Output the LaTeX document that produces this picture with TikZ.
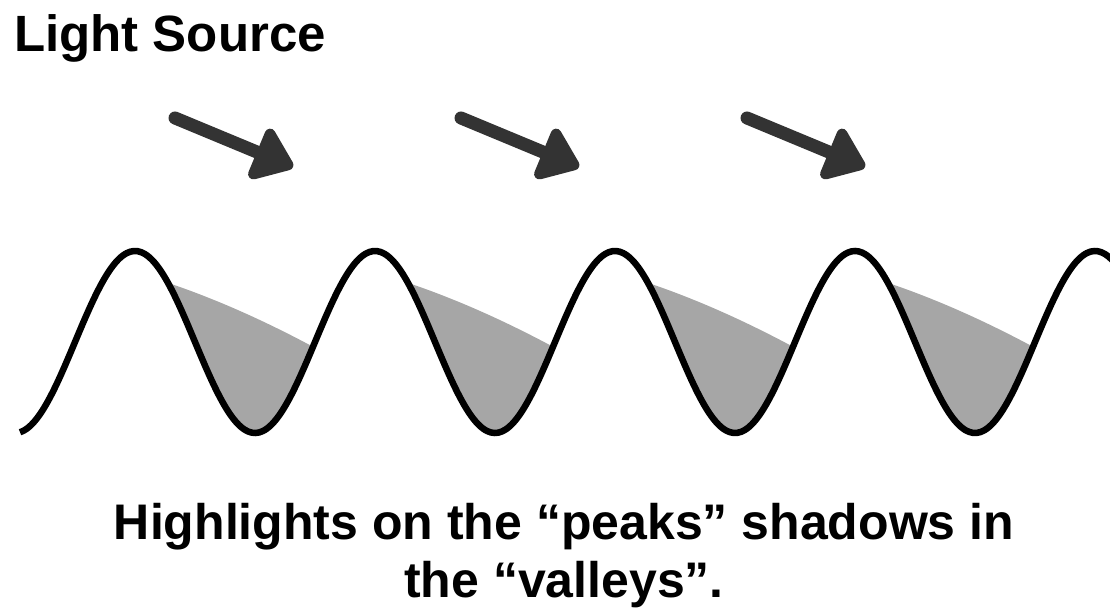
\documentclass[tikz,border=0pt]{standalone}
\usepackage{fontspec}
\setmainfont{Liberation Sans}
\usetikzlibrary{arrows.meta}
\definecolor{shadowgray}{HTML}{A6A6A6}
\definecolor{arrowgray}{HTML}{333333}
\begin{document}
\begin{tikzpicture}[x=1pt,y=1pt,
  declare function={wy(\t)=267+91*cos(1.5*(\t-135));},
  wave/.style={line width=6.5pt,black},
  shadowfill/.style={fill=shadowgray},
  lightarrow/.style={line width=13pt, arrowgray, line cap=round,
    -{Triangle[length=43pt,width=62pt,round]}},
  titlelabel/.style={font=\fontsize{51}{58}\bfseries\selectfont, inner sep=0pt},
  textlabel/.style={font=\fontsize{50}{58}\bfseries\selectfont, inner sep=0pt}]
\useasboundingbox (0,0) rectangle (1110,609);
\clip (0,0) rectangle (1110,609);
% shadows in the valleys
\foreach \k in {0,1,2,3}{
  \pgfmathsetmacro\a{168+240*\k}
  \pgfmathsetmacro\b{313+240*\k}
  \fill[shadowfill] plot[domain=\a:\b, samples=60, smooth] (\x,{wy(\x)})
    .. controls ({\a+97},288) and ({\a+48},310) .. (\a,{wy(\a)}) -- cycle;
}
% wave
\draw[wave] plot[domain=20:1120, samples=300, smooth] (\x,{wy(\x)});
% light arrows
\foreach \k/\n in {0/a,1/b,2/c}{
  \coordinate (tail\n) at ({175+286*\k},491);
  \coordinate (tip\n) at ({293+286*\k},442);
  \draw[lightarrow] (tail\n) -- (tip\n);
}
% labels
\node[titlelabel, anchor=base west] (title) at (14,557) {Light Source};
\node[textlabel, anchor=base] (cap1) at (564,69) {Highlights on the “peaks” shadows in};
\node[textlabel, anchor=base] (cap2) at (564,11) {the “valleys”.};
\end{tikzpicture}
\end{document}
